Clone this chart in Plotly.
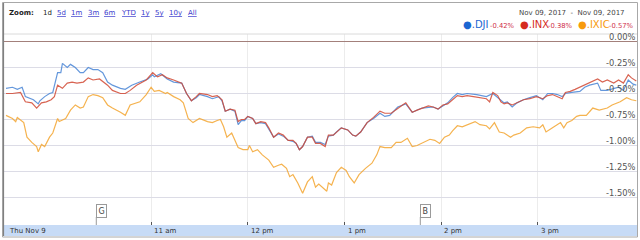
import plotly.graph_objects as go
import pandas as pd

# ---------------- data ----------------
BASE = pd.Timestamp("2017-11-09 09:30")

dji_min = [0, 4, 7, 10, 12, 15, 17, 20, 21, 24, 27, 29, 32, 34, 35, 38, 40, 43, 46, 48, 51, 54, 57, 60, 63, 66, 71, 74, 78, 83, 88, 91, 92, 96, 100, 104, 109, 112, 115, 118,
           120, 125, 128, 132, 134, 136, 139, 142, 144, 146, 148, 150, 153, 155, 158, 161, 163, 166, 169, 172, 175, 178, 180, 182, 184, 187, 190, 192, 195, 198, 200, 203, 205, 208, 212, 215, 217, 220, 224, 228, 232, 235, 238, 243, 248, 252, 258, 265, 268, 274, 277, 280, 283, 286, 292, 298, 302, 307, 309, 311, 314, 317, 321, 325, 329, 333, 336, 339, 342, 345, 347, 351, 356, 359, 362, 367, 369, 373, 377, 380, 383, 386, 389, 391]
dji_pct = [-0.45, -0.44, -0.46, -0.44, -0.53, -0.55, -0.56, -0.60, -0.57, -0.53, -0.50, -0.49, -0.30, -0.30, -0.21, -0.25, -0.22, -0.25, -0.30, -0.30, -0.25, -0.27, -0.27, -0.30, -0.39, -0.42, -0.45, -0.46, -0.42, -0.39, -0.36, -0.32, -0.34, -0.31, -0.36, -0.39, -0.40, -0.50, -0.57, -0.54,
           -0.51, -0.53, -0.55, -0.53, -0.57, -0.67, -0.65, -0.67, -0.80, -0.76, -0.76, -0.72, -0.74, -0.79, -0.78, -0.79, -0.84, -0.92, -0.89, -0.91, -0.95, -0.96, -0.98, -1.04, -1.01, -0.92, -0.91, -0.97, -0.97, -0.99, -0.91, -0.90, -0.87, -0.83, -0.85, -0.90, -0.91, -0.87, -0.78, -0.74, -0.69, -0.72, -0.71, -0.63, -0.60, -0.68, -0.64, -0.63, -0.65, -0.59, -0.54, -0.50, -0.51, -0.50, -0.51, -0.53, -0.50, -0.56, -0.59, -0.58, -0.63, -0.59, -0.56, -0.54, -0.52, -0.56, -0.50, -0.50, -0.51, -0.53, -0.50, -0.49, -0.48, -0.44, -0.42, -0.40, -0.47, -0.47, -0.45, -0.44, -0.47, -0.37, -0.41, -0.42]

inx_min = [0, 4, 9, 12, 16, 19, 22, 25, 28, 30, 32, 35, 38, 41, 44, 48, 51, 54, 58, 63, 66, 71, 74, 77, 81, 87, 91, 94, 97, 100, 104, 109, 112, 115, 118,
           120, 125, 128, 131, 134, 136, 139, 142, 144, 146, 148, 150, 153, 155, 158, 161, 163, 166, 169, 172, 175, 178, 180, 182, 184, 187, 190, 192, 195, 198, 200, 203, 205, 208, 212, 215, 217, 220, 224, 228, 232, 235, 239, 243, 246, 248, 252, 255, 258, 262, 265, 268, 271, 274, 277, 280, 283, 286, 290, 294, 298, 300, 302, 305, 307, 309, 311, 314, 317, 321, 325, 329, 333, 336, 339, 342, 345, 347, 350, 353, 356, 359, 362, 367, 370, 373, 377, 380, 383, 386, 388, 391]
inx_pct = [-0.50, -0.50, -0.49, -0.58, -0.59, -0.64, -0.59, -0.58, -0.56, -0.53, -0.42, -0.45, -0.40, -0.39, -0.40, -0.39, -0.35, -0.37, -0.36, -0.42, -0.47, -0.50, -0.50, -0.47, -0.42, -0.37, -0.30, -0.34, -0.32, -0.35, -0.37, -0.40, -0.50, -0.57, -0.53,
           -0.50, -0.51, -0.53, -0.52, -0.56, -0.67, -0.65, -0.66, -0.77, -0.75, -0.75, -0.72, -0.74, -0.79, -0.77, -0.78, -0.83, -0.92, -0.88, -0.90, -0.95, -0.95, -0.98, -1.04, -1.01, -0.92, -0.92, -0.98, -0.98, -1.01, -0.90, -0.90, -0.87, -0.83, -0.85, -0.90, -0.91, -0.87, -0.78, -0.73, -0.67, -0.69, -0.69, -0.64, -0.61, -0.59, -0.68, -0.66, -0.64, -0.62, -0.63, -0.65, -0.61, -0.60, -0.56, -0.52, -0.53, -0.52, -0.53, -0.54, -0.55, -0.58, -0.49, -0.52, -0.58, -0.60, -0.59, -0.61, -0.59, -0.56, -0.55, -0.53, -0.55, -0.52, -0.51, -0.53, -0.55, -0.49, -0.48, -0.46, -0.44, -0.42, -0.40, -0.36, -0.39, -0.37, -0.40, -0.37, -0.40, -0.32, -0.35, -0.38]

ixic_min = [0, 4, 6, 7, 11, 13, 16, 19, 20, 22, 24, 27, 29, 32, 33, 37, 40, 43, 46, 48, 51, 54, 57, 60, 63, 66, 71, 74, 77, 83, 87, 90, 92, 95, 99, 100, 104, 108, 110, 113, 116, 119,
            120, 125, 128, 131, 133, 135, 137, 140, 142, 144, 147, 150, 151, 153, 156, 159, 163, 166, 169, 171, 174, 176, 178, 181, 184, 187, 190, 192, 194, 196, 199, 200, 202, 205, 208, 211, 213, 216, 219, 223, 227, 230, 232, 235, 239, 242, 245, 249, 252, 255, 259, 263, 266, 269, 272, 275, 277, 280, 283, 286, 291, 294, 298, 300, 303, 306, 309, 313, 315, 319, 323, 327, 331, 333, 335, 339, 344, 346, 348, 351, 354, 356, 360, 364, 368, 373, 376, 381, 385, 388, 391]
ixic_pct = [-0.71, -0.74, -0.77, -0.73, -0.78, -0.92, -0.97, -1.01, -1.06, -0.99, -1.01, -0.92, -0.88, -0.74, -0.77, -0.74, -0.66, -0.61, -0.64, -0.63, -0.53, -0.51, -0.52, -0.54, -0.61, -0.64, -0.68, -0.71, -0.61, -0.58, -0.51, -0.44, -0.48, -0.47, -0.50, -0.49, -0.53, -0.56, -0.59, -0.74, -0.78, -0.75,
            -0.74, -0.77, -0.78, -0.76, -0.75, -0.82, -0.92, -0.88, -0.95, -1.02, -1.04, -1.04, -1.00, -1.06, -1.04, -1.09, -1.14, -1.21, -1.19, -1.18, -1.22, -1.30, -1.28, -1.36, -1.46, -1.35, -1.30, -1.40, -1.37, -1.40, -1.44, -1.36, -1.38, -1.26, -1.21, -1.24, -1.30, -1.36, -1.28, -1.22, -1.17, -1.09, -1.01, -1.02, -1.02, -0.97, -0.97, -0.93, -1.01, -1.00, -0.97, -0.94, -0.95, -0.98, -0.92, -0.90, -0.86, -0.81, -0.82, -0.80, -0.77, -0.80, -0.81, -0.84, -0.78, -0.87, -0.88, -0.92, -0.90, -0.88, -0.83, -0.82, -0.83, -0.80, -0.87, -0.83, -0.78, -0.83, -0.78, -0.76, -0.72, -0.71, -0.71, -0.64, -0.66, -0.64, -0.61, -0.58, -0.54, -0.56, -0.57]

series_names = [".DJI", ".INX", ".IXIC"]
series_change = ["-0.42%", "-0.38%", "-0.57%"]

y_tick_vals = [0, -0.25, -0.5, -0.75, -1.0, -1.25, -1.5]
y_tick_text = ["0.00%", "-0.25%", "-0.50%", "-0.75%", "-1.00%", "-1.25%", "-1.50%"]

x_tick_times = ["09:30", "11:00", "12:00", "13:00", "14:00", "15:00"]
x_tick_text = ["Thu Nov 9", "11 am", "12 pm", "1 pm", "2 pm", "3 pm"]

event_times = ["10:26", "13:47"]
event_text = ["G", "B"]

zoom_labels = ["1d", "5d", "1m", "3m", "6m", "YTD", "1y", "5y", "10y", "All"]
date_range_text = "Nov 09, 2017  -  Nov 09, 2017"

# ---------------- helpers ----------------
W, H = 640, 240
FONT = "DejaVu Sans"


def px(p):
    return p / W


def py(p):
    return 1 - p / H


def tm(m):
    return (BASE + pd.Timedelta(minutes=m)).strftime("%Y-%m-%d %H:%M:%S")


def hhmm(s):
    return "2017-11-09 " + s + ":00"


PPM = 1.612  # pixels per minute
X0 = 6       # pixel of market open

line_colors = ["#4a86d6", "#d24a35", "#f4a631"]
name_colors = ["#1b66d1", "#d52b1e", "#f79a0c"]

fig = go.Figure()
for mins, vals, col in [(dji_min, dji_pct, line_colors[0]),
                        (inx_min, inx_pct, line_colors[1]),
                        (ixic_min, ixic_pct, line_colors[2])]:
    fig.add_trace(go.Scatter(x=[tm(m) for m in mins], y=vals, mode="lines",
                             line=dict(color=col, width=1.2), opacity=0.85,
                             hoverinfo="skip"))

grid_times = [hhmm(s) for s in x_tick_times[1:]]

fig.update_layout(
    width=W, height=H, margin=dict(l=0, r=0, t=0, b=0),
    paper_bgcolor="white", plot_bgcolor="white", showlegend=False,
    xaxis=dict(domain=[px(4), px(637)], type="date",
               range=[tm((4 - X0) / PPM), tm((637 - X0) / PPM)],
               tickvals=grid_times, showticklabels=False,
               showgrid=True, gridcolor="#ececec", gridwidth=1,
               ticks="inside", ticklen=3, tickcolor="#555", tickwidth=1,
               zeroline=False, showline=False, fixedrange=True),
    yaxis=dict(domain=[py(225), py(34)],
               range=[(41.5 - 225) / 104, (41.5 - 34) / 104],
               tickvals=y_tick_vals[1:], showticklabels=False,
               showgrid=True, gridcolor="#dcdce6", gridwidth=1,
               zeroline=False, showline=False, fixedrange=True),
)

shapes = []
# zero line
shapes.append(dict(type="line", xref="paper", yref="y", x0=px(4), x1=px(637),
                   y0=y_tick_vals[0], y1=y_tick_vals[0], line=dict(color="#a3807b", width=1.2)))
# plot top line
shapes.append(dict(type="line", xref="paper", yref="paper", x0=px(4), x1=px(637),
                   y0=py(34), y1=py(34), line=dict(color="#dadada", width=1)))
# bottom band
shapes.append(dict(type="rect", xref="paper", yref="paper", x0=px(3), x1=px(637),
                   y0=py(236), y1=py(225), fillcolor="#c7dbf6", line=dict(width=0), layer="below"))
# outer border
shapes.append(dict(type="rect", xref="paper", yref="paper", x0=px(2.5), x1=px(637.5),
                   y0=py(237), y1=py(2.5), line=dict(color="#a8a8a8", width=1)))
shapes.append(dict(type="line", xref="paper", yref="paper", x0=px(3.5), x1=px(3.5),
                   y0=py(236), y1=py(3), line=dict(color="#808080", width=1.2)))

annotations = []
# event flags: stem + boxed letter, positioned on the time axis
for s, t in zip(event_times, event_text):
    tt = hhmm(s)
    shapes.append(dict(type="line", xref="x", yref="paper", x0=tt, x1=tt,
                       y0=py(225), y1=py(217), line=dict(color="#999", width=1)))
    annotations.append(dict(xref="x", yref="paper", x=tt, y=py(211), text=t,
                            xanchor="left", yanchor="middle", showarrow=False,
                            borderpad=1.5, bgcolor="white",
                            bordercolor="#9a9a9a", borderwidth=1,
                            font=dict(family=FONT, size=8, color="#444")))

# y tick labels (above gridlines, right aligned)
for v, t in zip(y_tick_vals, y_tick_text):
    annotations.append(dict(xref="paper", yref="y", x=px(637), y=v, text=t,
                            xanchor="right", yanchor="middle", yshift=4.5, showarrow=False,
                            font=dict(family=FONT, size=8.3, color="#555")))
# x tick labels (left aligned in band)
for s, t in zip(x_tick_times, x_tick_text):
    annotations.append(dict(xref="x", yref="paper", x=hhmm(s), y=py(230.5), text=t,
                            xanchor="left", yanchor="middle", xshift=1, showarrow=False,
                            font=dict(family=FONT, size=7, color="#333")))
# header: Zoom links
annotations.append(dict(xref="paper", yref="paper", x=px(7), y=py(13), text="<b>Zoom:</b>",
                        xanchor="left", yanchor="middle", showarrow=False,
                        font=dict(family=FONT, size=7, color="#222")))
zoom_x = [41, 55, 69, 86, 102, 119, 139, 153, 167, 186]
for i, (lab, zx) in enumerate(zip(zoom_labels, zoom_x)):
    txt = lab if i == 0 else "<u>" + lab + "</u>"
    col = "#222" if i == 0 else "#3a3acc"
    annotations.append(dict(xref="paper", yref="paper", x=px(zx), y=py(13), text=txt,
                            xanchor="left", yanchor="middle", showarrow=False,
                            font=dict(family=FONT, size=7, color=col)))
# header: date range
annotations.append(dict(xref="paper", yref="paper", x=px(627), y=py(13), text=date_range_text,
                        xanchor="right", yanchor="middle", showarrow=False,
                        font=dict(family=FONT, size=7, color="#444")))
# header: legend
name_x = [461, 518, 576]
chg_x = [488, 546, 607]
for nm, ch, col, nx, cx in zip(series_names, series_change, name_colors, name_x, chg_x):
    annotations.append(dict(xref="paper", yref="paper", x=px(nx), y=py(25), text="●" + nm,
                            xanchor="left", yanchor="middle", showarrow=False,
                            font=dict(family=FONT, size=10, color=col)))
    annotations.append(dict(xref="paper", yref="paper", x=px(cx), y=py(26.5), text=ch,
                            xanchor="left", yanchor="middle", showarrow=False,
                            font=dict(family=FONT, size=6.8, color="#d0304a")))

fig.update_layout(shapes=shapes, annotations=annotations)
fig.write_html("out.html")
